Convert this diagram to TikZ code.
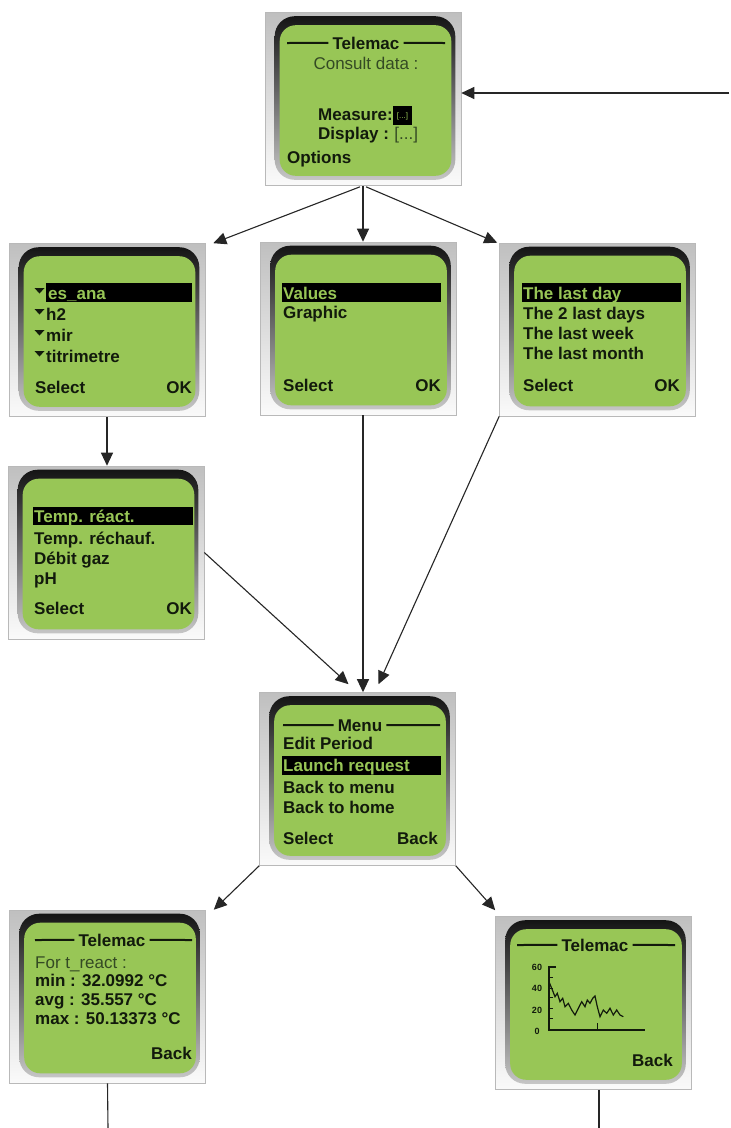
\documentclass[tikz,border=0pt]{standalone}
\usepackage{fontspec}
\setmainfont{Liberation Sans}
\usetikzlibrary{arrows.meta,calc}
\definecolor{scr}{RGB}{152,198,86}
\definecolor{ink}{RGB}{18,26,12}
\definecolor{inkl}{RGB}{52,74,36}
\tikzset{
  phoneframe/.style={rectangle, minimum width=196pt, minimum height=173pt, inner sep=0pt,
    draw=gray!55, line width=0.6pt, top color=gray!50, bottom color=gray!4},
  lbl/.style={font=\fontsize{17}{18}\selectfont\bfseries, text=ink, inner sep=0pt, anchor=base west},
  lblr/.style={lbl, anchor=base east},
  lblc/.style={lbl, anchor=base},
  lite/.style={font=\fontsize{17}{18}\selectfont, text=inkl, inner sep=0pt, anchor=base west},
  sel/.style={lbl, text=scr},
  hdr/.style={line width=2pt, draw=ink},
  link/.style={draw=black!85, line width=1.1pt, -{Triangle[length=13pt,width=12pt]}},
  wire/.style={draw=black!85, line width=1.1pt},
  axl/.style={font=\fontsize{9}{9}\selectfont\bfseries, text=ink, inner sep=0pt},
}
\newcommand{\drawphone}[3]{%
  \node[phoneframe] (#1) at (#2,#3) {};
  \shade[top color=black!92, bottom color=gray!45, rounded corners=20pt]
    ($(#1.north west)+(10,4)$) rectangle ($(#1.south east)+(-6,-6)$);
  \fill[scr, rounded corners=16pt]
    ($(#1.north west)+(15,13)$) rectangle ($(#1.south east)+(-10,-10)$);
}
\begin{document}
\begin{tikzpicture}[x=1pt,y=-1pt]
\fill[white] (0,0) rectangle (731,1128);
\useasboundingbox (0,0) rectangle (731,1128);

% ---------- screens ----------
\drawphone{s1}{363}{99}
\drawphone{s2}{107}{330}
\drawphone{s3}{358.5}{328.5}
\drawphone{s4}{597.5}{329.5}
\drawphone{s5}{106}{552.5}
\drawphone{s6}{357.5}{779}
\drawphone{s7}{107.5}{996.5}
\drawphone{s8}{593.5}{1003}

% ---------- screen 1 ----------
\node[lblc] (h1) at (366,49) {Telemac};
\draw[hdr] (287,43) -- ($(h1.west)+(-4,0)$);
\draw[hdr] ($(h1.east)+(4,0)$) -- (445,43);
\node[lite, anchor=base] (c1) at (366,69) {Consult data :};
\node[lbl] (m1) at (318,120) {Measure:};
\fill[black] (393,106) rectangle (412,125);
\node[font=\fontsize{8}{8}\selectfont, text=scr, inner sep=0pt] (m1v) at (402.5,116) {[...]};
\node[lbl] (d1) at (318,139) {Display :};
\node[lite, anchor=base west] (d1v) at ($(d1.base east)+(5,0)$) {[...]};
\node[lbl] (o1) at (287,163) {Options};

% ---------- screen 2 ----------
\fill[black] (46,283) rectangle (192,302);
\node[sel] (a1) at (48,299) {es\_ana};
\node[lbl] (a2) at (46,320) {h2};
\node[lbl] (a3) at (46,341) {mir};
\node[lbl] (a4) at (46,362) {titrimetre};
\foreach \yc in {292,313,334,355}{
  \fill[ink] (34.5,\yc-4) -- (44.5,\yc-4) -- (39.5,\yc+1.5) -- cycle;
}
\node[lbl] (a5) at (35,393) {Select};
\node[lblr] (a6) at (192,393) {OK};

% ---------- screen 3 ----------
\fill[black] (282,283) rectangle (441,302);
\node[sel] (b1) at (283,299) {Values};
\node[lbl] (b2) at (283,318) {Graphic};
\node[lbl] (b3) at (283,391) {Select};
\node[lblr] (b4) at (441,391) {OK};

% ---------- screen 4 ----------
\fill[black] (522,283) rectangle (681,302);
\node[sel] (r1) at (523,299) {The last day};
\node[lbl] (r2) at (523,319) {The 2 last days};
\node[lbl] (r3) at (523,339) {The last week};
\node[lbl] (r4) at (523,359) {The last month};
\node[lbl] (r5) at (523,391) {Select};
\node[lblr] (r6) at (680,391) {OK};

% ---------- screen 5 ----------
\fill[black] (33,507) rectangle (193,525);
\node[sel] (p1) at (34,522) {Temp. réact.};
\node[lbl] (p2) at (34,544) {Temp. réchauf.};
\node[lbl] (p3) at (34,564) {Débit gaz};
\node[lbl] (p4) at (34,584) {pH};
\node[lbl] (p5) at (34,614) {Select};
\node[lblr] (p6) at (192,614) {OK};

% ---------- screen 6 ----------
\node[lblc] (h6) at (360,731) {Menu};
\draw[hdr] (283,725) -- ($(h6.west)+(-4,0)$);
\draw[hdr] ($(h6.east)+(4,0)$) -- (440,725);
\node[lbl] (n1) at (283,749) {Edit Period};
\fill[black] (282,756) rectangle (441,775);
\node[sel] (n2) at (283,771) {Launch request};
\node[lbl] (n3) at (283,793) {Back to menu};
\node[lbl] (n4) at (283,813) {Back to home};
\node[lbl] (n5) at (283,844) {Select};
\node[lblr] (n6) at (438,844) {Back};

% ---------- screen 7 ----------
\node[lblc] (h7) at (112,946) {Telemac};
\draw[hdr] (35,940) -- ($(h7.west)+(-4,0)$);
\draw[hdr] ($(h7.east)+(4,0)$) -- (192,940);
\node[lite] (v1) at (35,968) {For t\_react :};
\node[lbl] (v2) at (35,986) {min : 32.0992 °C};
\node[lbl] (v3) at (35,1005) {avg : 35.557 °C};
\node[lbl] (v4) at (35,1024) {max : 50.13373 °C};
\node[lblr] (v5) at (192,1059) {Back};

% ---------- screen 8 ----------
\node[lblc] (h8) at (595,951) {Telemac};
\draw[hdr] (517,945) -- ($(h8.west)+(-4,0)$);
\draw[hdr] ($(h8.east)+(4,0)$) -- (675,945);
\node[axl] (g60) at (537,967) {60};
\node[axl] (g40) at (537,988) {40};
\node[axl] (g20) at (537,1010) {20};
\node[axl] (g0) at (537,1031) {0};
\draw[ink, line width=1.3pt] (556,967) -- (549,967) -- (549,1030) -- (645,1030);
\foreach \ty in {977,988,997,1008,1018}{ \draw[ink, line width=1pt] (549,\ty) -- (553,\ty); }
\draw[ink, line width=1pt] (597,1030) -- (597,1023);
\draw[ink, line width=1.2pt] plot coordinates {(549,981.7) (551.7,988.3) (555,996.7) (557.3,993.3) (560,1001.7) (562.7,998.3) (565,1006.7) (568.3,1003.3) (571.7,1010) (575,1015) (578.3,1008.3) (581.7,1001.7) (585,1006.7) (587.3,1000) (590,1003.3) (592.7,998.3) (595,996) (597.3,1006.7) (600,1016.7) (603.3,1010) (606.7,1013.3) (610,1008.3) (613.3,1015) (616.7,1010) (620,1015) (623.3,1016.7)};
\node[lblr] (w5) at (673,1066) {Back};

% ---------- connectors ----------
\coordinate (inR) at (729,93);
\draw[link] (inR) -- (inR -| s1.east);
\draw[link] ($(s1.south)+(-3,1)$) -- ($(s2.north east)+(8,0)$);
\draw[link] (s1.south) -- (s1.south |- s3.north);
\draw[link] ($(s1.south)+(3,1)$) -- ($(s4.north west)+(-2,0)$);
\draw[link] (s2.south) -- (s2.south |- s5.north);
\draw[link] ($(s3.south)+(4.5,0)$) -- ($(s6.north)+(5.5,0)$);
\draw[link] (s4.south west) -- ($(s6.north)+(21,-8)$);
\draw[link] (s5.east) -- ($(s6.north)+(-9,-8)$);
\draw[link] (s6.south west) -- ($(s7.north east)+(8,0)$);
\draw[link] (s6.south east) -- ($(s8.north west)+(0,-6)$);
\coordinate (e7) at (108,1128);
\draw[wire] (s7.south) -- (e7);
\coordinate (e8) at (599,1128);
\draw[wire] ($(s8.south)+(5.5,0)$) -- (e8);
\end{tikzpicture}
\end{document}
